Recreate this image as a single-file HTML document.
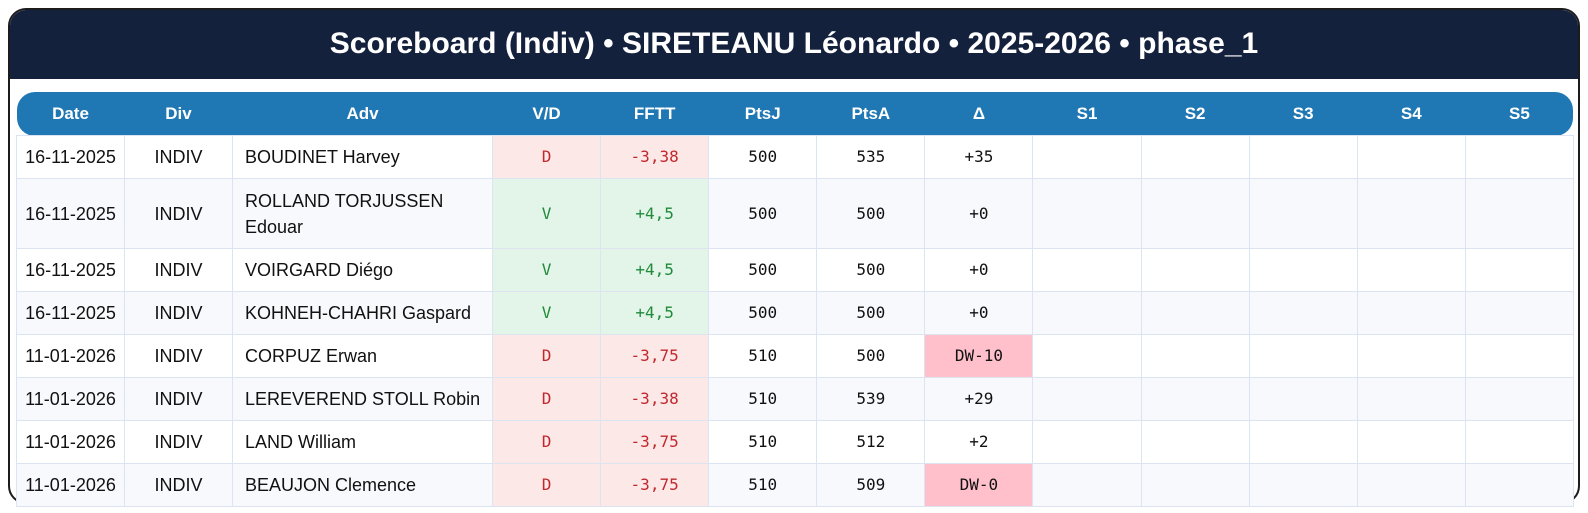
<!DOCTYPE html>
<html><head><meta charset="utf-8"><style>
body{margin:0;width:1588px;height:513px;background:#fff;position:relative;overflow:hidden;font-family:"Liberation Sans",sans-serif}
.box{position:absolute;left:8px;top:8px;width:1568px;height:492px;border:2px solid #1c1c1c;border-radius:18px;overflow:hidden;background:#fff}
.title{position:absolute;left:0;top:0;width:100%;height:69px;background:#14213d;color:#fff;font-weight:bold;font-size:30px;text-align:center;line-height:68px}
table{position:absolute;left:16px;top:92px;width:1557px;border-collapse:collapse;table-layout:fixed;font-size:18px;color:#111}
th{background:#1f77b4;color:#fff;font-weight:bold;height:43px;padding:0;font-size:17px}
th:first-child{border-radius:18px 0 0 18px}
th:last-child{border-radius:0 18px 18px 0}
td{border:1px solid #dbe4f0;text-align:center;padding:0 6px;height:42px;line-height:26px}
tr:nth-child(odd) td{background:#f7f9fd}
td.a{text-align:left;padding-left:12px;padding-right:10px}
.m{font-family:"DejaVu Sans Mono","Liberation Mono",monospace;font-size:16px}
td.d{background:#fde8e8 !important;color:#c0282d}
td.v{background:#e3f4e8 !important;color:#1f8a3a}
td.p{background:#ffc0cb !important}
</style></head><body>
<div class="box"><div class="title">Scoreboard (Indiv) • SIRETEANU Léonardo • 2025-2026 • phase_1</div></div>
<table>
<colgroup><col style="width:108px"><col style="width:108px"><col style="width:260px"><col span="10" style="width:108.1px"></colgroup>
<tr><th>Date</th><th>Div</th><th>Adv</th><th>V/D</th><th>FFTT</th><th>PtsJ</th><th>PtsA</th><th>Δ</th><th>S1</th><th>S2</th><th>S3</th><th>S4</th><th>S5</th></tr>
<tr><td>16-11-2025</td><td>INDIV</td><td class="a">BOUDINET Harvey</td><td class="m d">D</td><td class="m d">-3,38</td><td class="m">500</td><td class="m">535</td><td class="m">+35</td><td></td><td></td><td></td><td></td><td></td></tr>
<tr><td style="height:69px">16-11-2025</td><td>INDIV</td><td class="a">ROLLAND TORJUSSEN Edouar</td><td class="m v">V</td><td class="m v">+4,5</td><td class="m">500</td><td class="m">500</td><td class="m">+0</td><td></td><td></td><td></td><td></td><td></td></tr>
<tr><td>16-11-2025</td><td>INDIV</td><td class="a">VOIRGARD Diégo</td><td class="m v">V</td><td class="m v">+4,5</td><td class="m">500</td><td class="m">500</td><td class="m">+0</td><td></td><td></td><td></td><td></td><td></td></tr>
<tr><td>16-11-2025</td><td>INDIV</td><td class="a">KOHNEH-CHAHRI Gaspard</td><td class="m v">V</td><td class="m v">+4,5</td><td class="m">500</td><td class="m">500</td><td class="m">+0</td><td></td><td></td><td></td><td></td><td></td></tr>
<tr><td>11-01-2026</td><td>INDIV</td><td class="a">CORPUZ Erwan</td><td class="m d">D</td><td class="m d">-3,75</td><td class="m">510</td><td class="m">500</td><td class="m p">DW-10</td><td></td><td></td><td></td><td></td><td></td></tr>
<tr><td>11-01-2026</td><td>INDIV</td><td class="a">LEREVEREND STOLL Robin</td><td class="m d">D</td><td class="m d">-3,38</td><td class="m">510</td><td class="m">539</td><td class="m">+29</td><td></td><td></td><td></td><td></td><td></td></tr>
<tr><td>11-01-2026</td><td>INDIV</td><td class="a">LAND William</td><td class="m d">D</td><td class="m d">-3,75</td><td class="m">510</td><td class="m">512</td><td class="m">+2</td><td></td><td></td><td></td><td></td><td></td></tr>
<tr><td>11-01-2026</td><td>INDIV</td><td class="a">BEAUJON Clemence</td><td class="m d">D</td><td class="m d">-3,75</td><td class="m">510</td><td class="m">509</td><td class="m p">DW-0</td><td></td><td></td><td></td><td></td><td></td></tr>
</table>
</body></html>
